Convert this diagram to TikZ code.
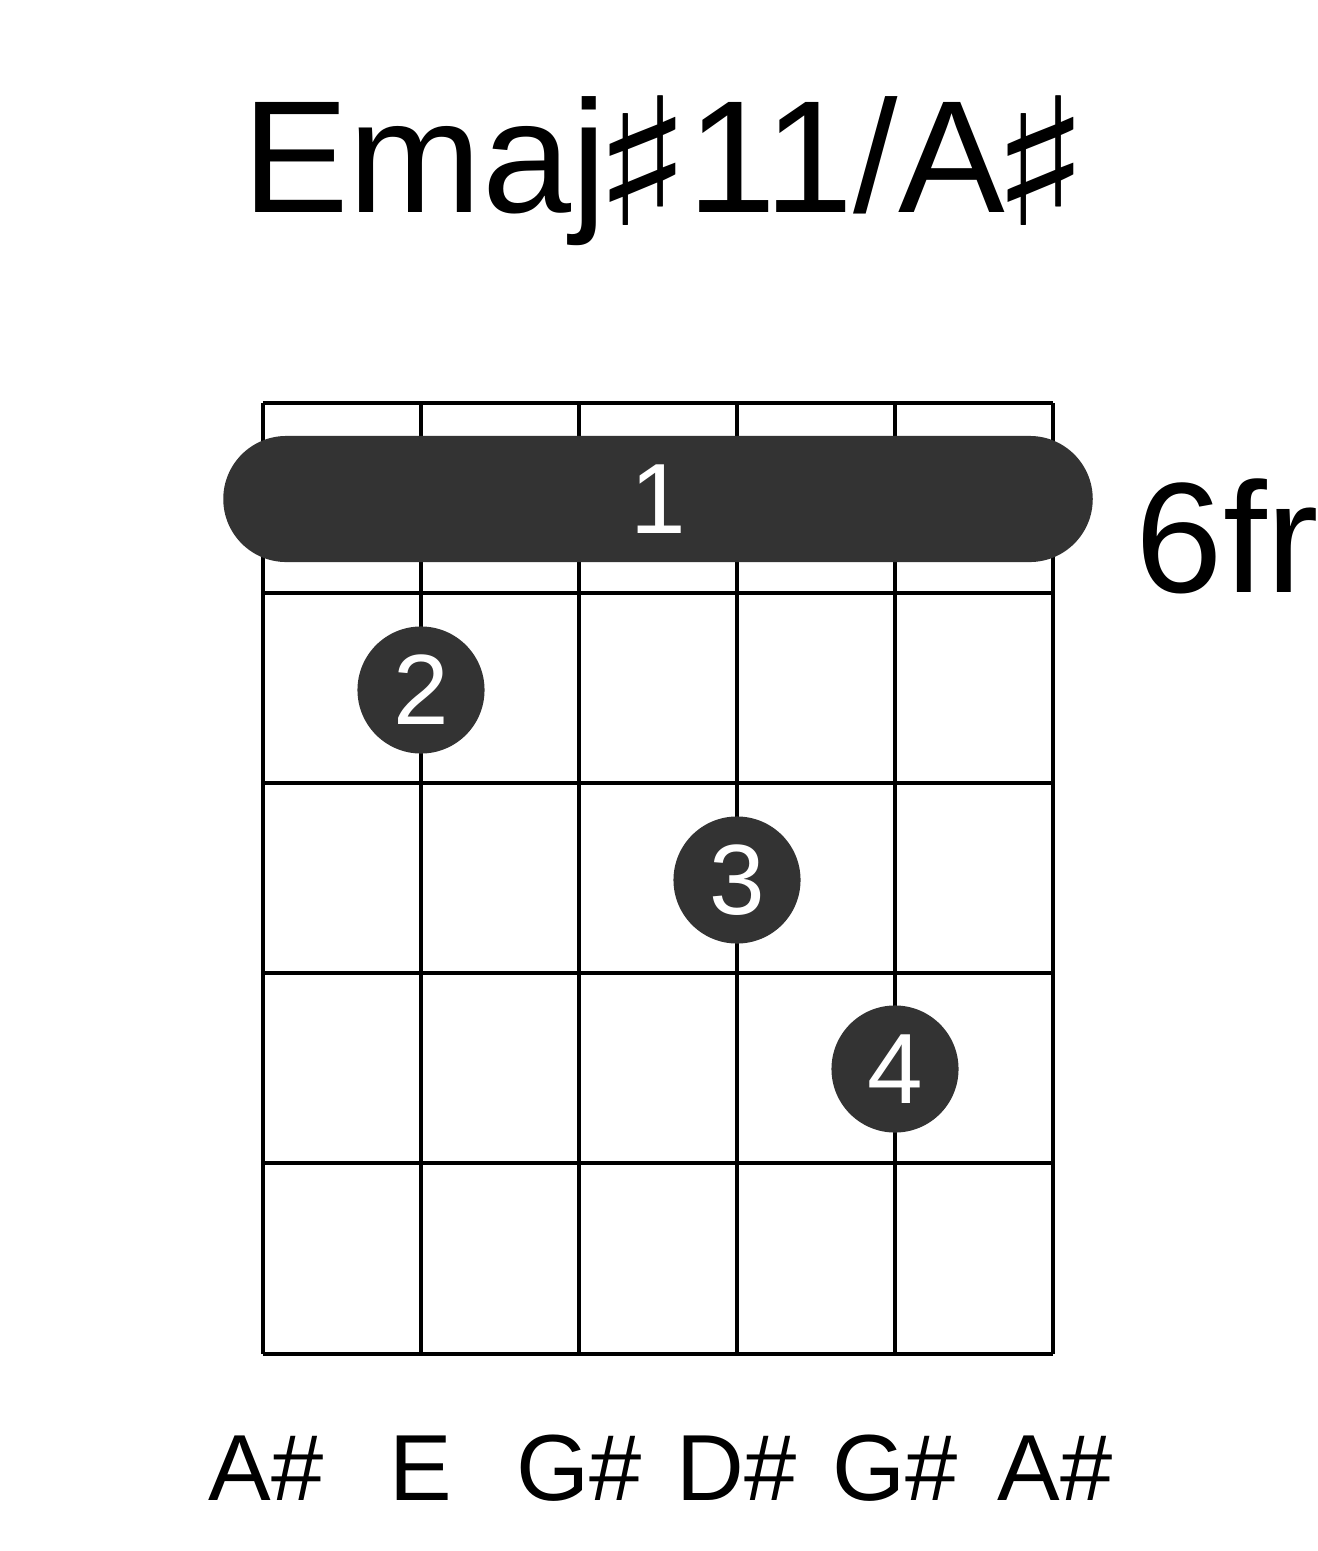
\documentclass[tikz,border=0pt]{standalone}
\usepackage{fontspec}
\setmainfont{Liberation Sans}
\newfontfamily\sharpfont{DejaVu Sans}
\usepackage{xcolor}
\usepackage{tikz}
\usetikzlibrary{positioning}
\definecolor{chdark}{HTML}{333333}
\newcommand\chsharp{\makebox[0.81cm][l]{\hspace{-0.14cm}\raisebox{-0.13cm}{\scalebox{1.3}[1.11]{\sharpfont ♯}}}}
\tikzset{
  gridline/.style={draw=black, line width=1.4pt},
  barre/.style={draw=none, fill=chdark, rounded corners=0.63cm, inner sep=0pt,
    minimum width=8.69cm, minimum height=1.26cm, text=white,
    font=\fontsize{28.4}{30}\selectfont},
  finger/.style={circle, draw=none, fill=chdark, inner sep=0pt,
    minimum size=1.27cm, text=white, font=\fontsize{28.4}{30}\selectfont},
  chordname/.style={inner sep=0pt, font=\fontsize{45.5}{50}\selectfont},
  fretlabel/.style={inner sep=0pt, font=\fontsize{44.7}{50}\selectfont},
  notelabel/.style={inner sep=0pt, font=\fontsize{26.7}{30}\selectfont}
}
\begin{document}
\begin{tikzpicture}[x=0.01cm, y=-0.01cm]
    \useasboundingbox (0,0) rectangle (1317,1551);

    \node[chordname, anchor=base] (title) at (664,212)
      {Emaj\chsharp11/A\chsharp};

    % strings and frets
    \foreach \sx in {263,421,579,737,895,1053}
      \draw[gridline] (\sx,403) -- (\sx,1354);
    \foreach \fy in {403,593,783,973,1163,1354}
      \draw[gridline] (263,\fy) -- (1053,\fy);

    \node[barre] (bar) at (658,499) {\raisebox{-0.5ex}{1}};
    \node[fretlabel, anchor=base west] (pos) at (1135,592) {6fr};

    \node[finger] (f2) at (421,690) {2};
    \node[finger] (f3) at (737,880) {3};
    \node[finger] (f4) at (895,1069) {4};

    \node[notelabel, anchor=base] (n1) at (266,1500) {A\#};
    \node[notelabel, anchor=base] (n2) at (421,1500) {E};
    \node[notelabel, anchor=base] (n3) at (579,1500) {G\#};
    \node[notelabel, anchor=base] (n4) at (737,1500) {D\#};
    \node[notelabel, anchor=base] (n5) at (895,1500) {G\#};
    \node[notelabel, anchor=base] (n6) at (1055,1500) {A\#};
\end{tikzpicture}
\end{document}
